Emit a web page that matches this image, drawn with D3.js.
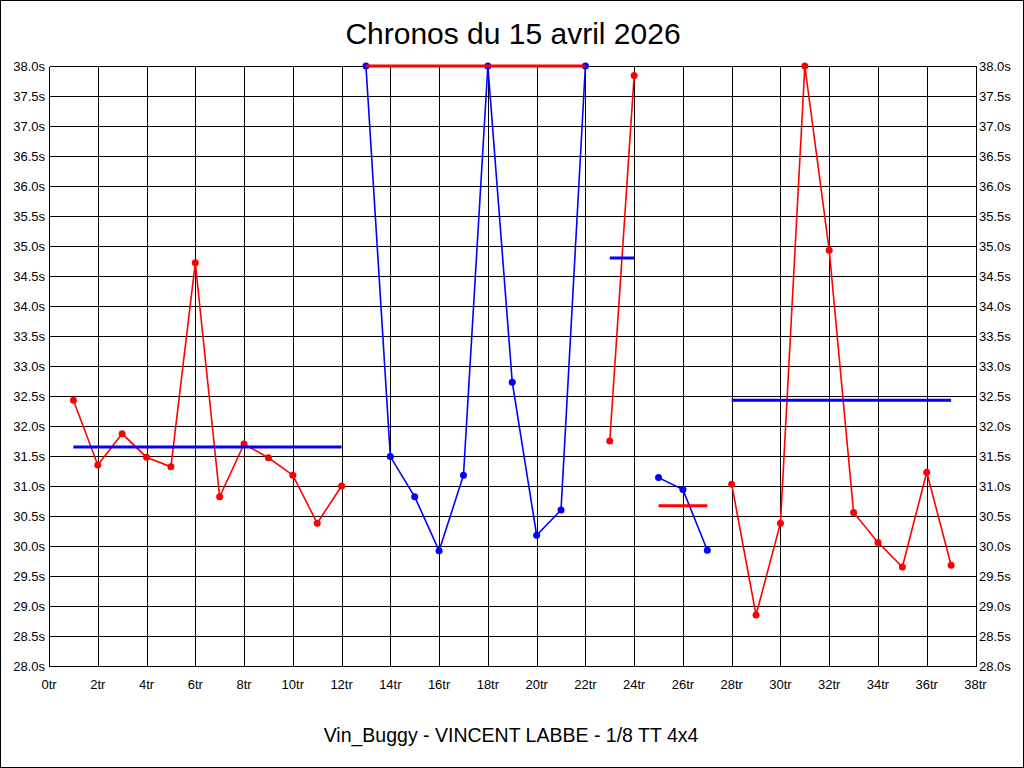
<!DOCTYPE html>
<html>
<head>
<meta charset="utf-8">
<script src="https://cdn.jsdelivr.net/npm/d3@7"></script>
<style>
html,body{margin:0;padding:0;background:#fff;}
svg{display:block;font-family:"Liberation Sans",Arial,sans-serif;}
</style>
</head>
<body>
<svg id="chart" width="1024" height="768"></svg>
<script>
// ---- data ----
const title = "Chronos du 15 avril 2026";
const subtitle = "Vin_Buggy - VINCENT LABBE - 1/8 TT 4x4";
const laps = [1,2,3,4,5,6,7,8,9,10,11,12,13,14,15,16,17,18,19,20,21,22,23,24,25,26,27,28,29,30,31,32,33,34,35,36,37];
const lapTimes = [32.43,31.35,31.87,31.48,31.32,34.72,30.82,31.70,31.47,31.18,30.38,31.00,
                  38.00,31.49,30.82,29.92,31.18,38.00,32.73,30.18,30.60,38.00,
                  31.75,37.84,
                  31.14,30.94,29.93,
                  31.03,28.85,30.38,38.00,34.93,30.56,30.06,29.65,31.23,29.68];
const stintStart = [1,13,23,25,28];
const stintEnd   = [12,22,24,27,37];
const stintColor = ["#ff0000","#0000ff","#ff0000","#0000ff","#ff0000"];
const stintAvg   = [31.65,38.00,34.80,30.67,32.43];
const avgColor   = ["#0000ff","#ff0000","#0000ff","#ff0000","#0000ff"];
const xTicks = [0,2,4,6,8,10,12,14,16,18,20,22,24,26,28,30,32,34,36,38];
const yTicks = [28,28.5,29,29.5,30,30.5,31,31.5,32,32.5,33,33.5,34,34.5,35,35.5,36,36.5,37,37.5,38];

// ---- chart ----
const svg = d3.select("#chart");
const W = 1024, H = 768;
const x = d3.scaleLinear().domain([0,38]).range([49,975.5]);
const y = d3.scaleLinear().domain([28,38]).range([666,66]).clamp(true);
const px = v => Math.round(x(v)) + 0.5;
const py = v => Math.round(y(v)) + 0.5;

svg.append("rect").attr("x",0.5).attr("y",0.5).attr("width",W-1).attr("height",H-1)
  .attr("fill","#fff").attr("stroke","#000");

// grid
const grid = svg.append("g").attr("shape-rendering","crispEdges").attr("stroke","#000").attr("stroke-width",1);
grid.selectAll("line.v").data(xTicks).enter().append("line")
  .attr("x1",d=>px(d)).attr("x2",d=>px(d)).attr("y1",py(38)).attr("y2",py(28));
grid.selectAll("line.h").data(yTicks).enter().append("line")
  .attr("y1",d=>py(d)).attr("y2",d=>py(d)).attr("x1",px(0)).attr("x2",px(38));

// axis labels
const fmtY = d => d3.format(".1f")(d) + "s";
svg.append("g").selectAll("text").data(yTicks).enter().append("text")
  .attr("x",45).attr("y",d=>y(d)+5).attr("text-anchor","end")
  .attr("font-size",13).text(fmtY);
svg.append("g").selectAll("text").data(yTicks).enter().append("text")
  .attr("x",979).attr("y",d=>y(d)+5).attr("text-anchor","start")
  .attr("font-size",13).text(fmtY);
svg.append("g").selectAll("text").data(xTicks).enter().append("text")
  .attr("x",d=>x(d)).attr("y",689).attr("text-anchor","middle")
  .attr("font-size",13).text(d=>d+"tr");

// title
svg.append("text").attr("x",513).attr("y",44).attr("text-anchor","middle")
  .attr("font-size",30).text(title);
svg.append("text").attr("x",511).attr("y",742).attr("text-anchor","middle")
  .attr("font-size",19.5).text(subtitle);

// stints
const pts = laps.map((l,i)=>({lap:l,t:lapTimes[i]}));
const line = d3.line().x(d=>x(d.lap)).y(d=>y(d.t));
stintStart.forEach((s,k)=>{
  const seg = pts.filter(p=>p.lap>=s && p.lap<=stintEnd[k]);
  const g = svg.append("g");
  g.append("path").attr("d",line(seg)).attr("fill","none")
    .attr("stroke",stintColor[k]).attr("stroke-width",1.6);
  g.selectAll("circle").data(seg).enter().append("circle")
    .attr("cx",d=>x(d.lap)).attr("cy",d=>y(d.t)).attr("r",3.5)
    .attr("fill",stintColor[k]);
});
// averages
stintStart.forEach((s,k)=>{
  svg.append("line").attr("x1",x(s)).attr("x2",x(stintEnd[k]))
    .attr("y1",y(stintAvg[k])).attr("y2",y(stintAvg[k]))
    .attr("stroke",avgColor[k]).attr("stroke-width",3);
});
</script>
</body>
</html>
